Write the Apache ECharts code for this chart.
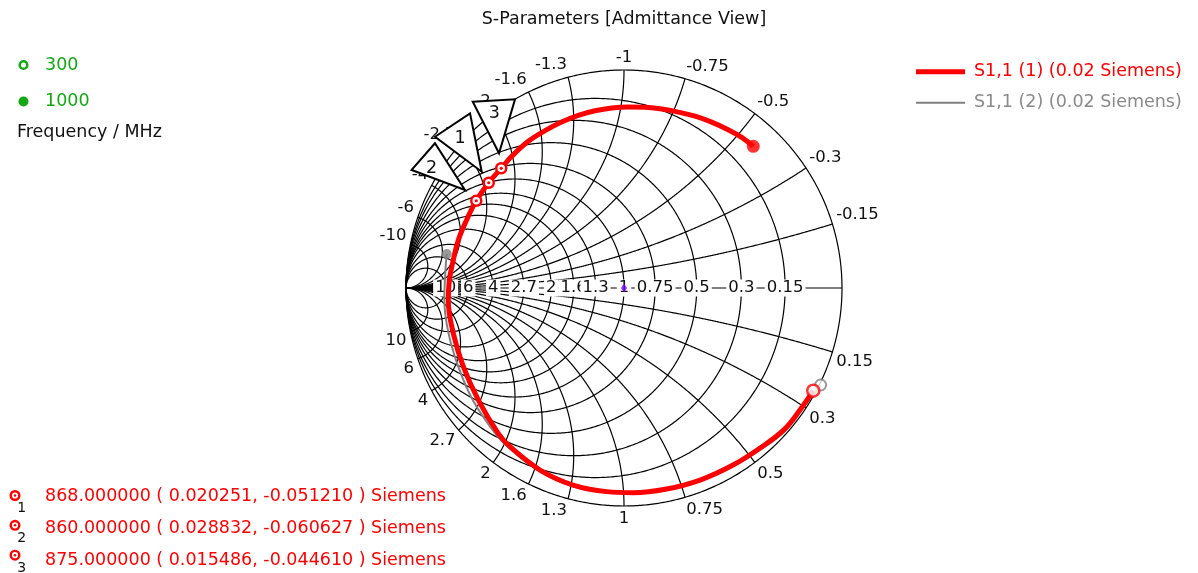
<!DOCTYPE html>
<html>
<head>
<meta charset="utf-8">
<title>S-Parameters [Admittance View]</title>
<script src="https://cdn.jsdelivr.net/npm/echarts@6.0.0/dist/echarts.min.js"></script>
<style>
html,body{margin:0;padding:0;background:#ffffff;}
#chart{width:1198px;height:573px;}
</style>
</head>
<body>
<div id="chart"></div>
<script>
// ---------------- data ----------------
const chartTitle = 'S-Parameters [Admittance View]';
const referenceSiemens = 0.02;
const conductanceTicks = [0.15, 0.3, 0.5, 0.75, 1, 1.3, 1.6, 2, 2.7, 4, 6, 10];
const susceptanceTicks = [0.15, 0.3, 0.5, 0.75, 1, 1.3, 1.6, 2, 2.7, 4, 6, 10];
const traceNames = ['S1,1 (1) (0.02 Siemens)', 'S1,1 (2) (0.02 Siemens)'];
const frequencyLabels = ['300', '1000'];
const frequencyAxisName = 'Frequency / MHz';
// S1,1 reflection coefficient [re, im], from 300 MHz to 1000 MHz
const s11Trace1 = [
  [0.868,-0.471],[0.807,-0.560],[0.733,-0.651],[0.624,-0.734],[0.500,-0.812],
  [0.349,-0.881],[0.196,-0.922],[0.041,-0.939],[-0.079,-0.934],[-0.234,-0.904],
  [-0.385,-0.835],[-0.523,-0.728],[-0.577,-0.667],[-0.668,-0.514],[-0.737,-0.361],
  [-0.783,-0.208],[-0.806,-0.055],[-0.801,0.037],[-0.783,0.128],[-0.760,0.220],
  [-0.722,0.312],[-0.678,0.400],[-0.621,0.483],[-0.563,0.549],[-0.515,0.604],
  [-0.439,0.673],[-0.362,0.722],[-0.286,0.761],[-0.210,0.792],[-0.133,0.813],
  [-0.056,0.826],[0.020,0.830],[0.096,0.829],[0.173,0.821],[0.249,0.807],
  [0.326,0.788],[0.402,0.761],[0.478,0.726],[0.540,0.691],[0.593,0.650]
];
const s11Trace2 = [
  [0.902,-0.445],[0.821,-0.550],[0.738,-0.657],[0.628,-0.740],[0.503,-0.816],
  [0.351,-0.885],[0.197,-0.926],[0.041,-0.943],[-0.080,-0.938],[-0.237,-0.908],
  [-0.389,-0.840],[-0.528,-0.733],[-0.587,-0.672],[-0.690,-0.521],[-0.759,-0.364],
  [-0.805,-0.207],[-0.824,-0.055],[-0.819,0.083],[-0.813,0.156]
];
const markerIds = [1, 2, 3];
const markerFreqMHz = [868, 860, 875];
const markerG = [0.020251, 0.028832, 0.015486];
const markerB = [-0.051210, -0.060627, -0.044610];

// ---------------- styles / layout ----------------
const FONT = '"DejaVu Sans", Verdana, sans-serif';
const tickFont = '16.5px ' + FONT;
const textFont = '17.5px ' + FONT;
const RED = '#ff0000', GRAY = '#808080', GREEN = '#12a812', INK = '#111111';
const CX = 624, CY = 288, R = 218;
const GRID_LW = 1.2;
const calloutShapes = {
  1: {tri: [[-53.7,-46],[-18.7,-69.4],[-7,-11]], label: [-28.7,-44.4]},
  2: {tri: [[-64.6,-30.8],[-41.3,-57.5],[-11.3,-10.8]], label: [-44.6,-32.5]},
  3: {tri: [[-28.5,-66.6],[13.8,-69],[-2.2,-15]], label: [-6.9,-55]}
};

// normalized admittance -> reflection coefficient (admittance view)
function admittanceToGamma(g, b) {
  const nr = 1 - g, ni = -b, dr = 1 + g, di = b;
  const den = dr * dr + di * di;
  return [(nr * dr + ni * di) / den, (ni * dr - nr * di) / den];
}

const markerData = markerIds.map((id, i) => {
  const gm = admittanceToGamma(markerG[i] / referenceSiemens, markerB[i] / referenceSiemens);
  return [gm[0], gm[1], id];
});

function renderSmithGrid(params, api) {
  const P = p => api.coord(p);
  const ls = {stroke: '#000', lineWidth: GRID_LW, fill: null};
  const children = [];
  // outer circle (g = 0)
  const outer = [];
  for (let k = 0; k <= 720; k++) {
    const t = k * Math.PI / 360;
    outer.push(P([Math.cos(t), Math.sin(t)]));
  }
  children.push({type: 'polyline', shape: {points: outer}, style: ls});
  // real axis (b = 0)
  const a1 = P([-1, 0]), a2 = P([1, 0]);
  children.push({type: 'line', shape: {x1: a1[0], y1: a1[1], x2: a2[0], y2: a2[1]}, style: ls});
  // constant conductance circles
  conductanceTicks.forEach(g => {
    const pts = [P([-1, 0])];
    for (let k = 1; k < 600; k++) {
      const b = Math.tan(-Math.PI / 2 + k * Math.PI / 600);
      pts.push(P(admittanceToGamma(g, b)));
    }
    pts.push(P([-1, 0]));
    children.push({type: 'polyline', shape: {points: pts}, style: ls});
  });
  // constant susceptance arcs
  susceptanceTicks.forEach(bAbs => [-bAbs, bAbs].forEach(b => {
    const pts = [];
    for (let k = 0; k < 500; k++) {
      const g = Math.tan(k * (Math.PI / 2) / 500);
      pts.push(P(admittanceToGamma(g, b)));
    }
    pts.push(P([-1, 0]));
    children.push({type: 'polyline', shape: {points: pts}, style: ls});
  }));
  // conductance labels on the real axis (drawn left to right)
  conductanceTicks.slice().reverse().forEach(g => {
    const p = P([(1 - g) / (1 + g), 0]);
    children.push({type: 'text', x: p[0], y: p[1], style: {
      text: String(g), fill: INK, font: tickFont, align: 'center', verticalAlign: 'middle',
      backgroundColor: '#ffffff', padding: [0, 2]
    }});
  });
  // susceptance labels around the rim
  susceptanceTicks.forEach(bAbs => [-bAbs, bAbs].forEach(b => {
    const th = -2 * Math.atan(b);
    const c = Math.cos(th), s = Math.sin(th);
    const p = P([1.018 * c, 1.018 * s]);
    children.push({type: 'text', x: p[0], y: p[1], style: {
      text: String(b), fill: INK, font: tickFont,
      align: c > 1e-6 ? 'left' : (c < -1e-6 ? 'right' : 'center'),
      verticalAlign: s > 0 ? 'bottom' : 'top'
    }});
  }));
  return {type: 'group', children};
}

function renderMarkers(params, api) {
  const id = api.value(2);
  const p = api.coord([api.value(0), api.value(1)]);
  const sh = calloutShapes[id];
  const pts = sh.tri.map(o => [p[0] + o[0], p[1] + o[1]]);
  return {type: 'group', children: [
    {type: 'polygon', shape: {points: pts}, style: {fill: '#ffffff', stroke: '#000', lineWidth: 2}},
    {type: 'text', x: p[0] + sh.label[0], y: p[1] + sh.label[1], style: {
      text: String(id), font: textFont, fill: INK, align: 'center', verticalAlign: 'middle'}},
    {type: 'circle', shape: {cx: p[0], cy: p[1], r: 5}, style: {fill: '#ffffff', stroke: RED, lineWidth: 2.5}},
    {type: 'circle', shape: {cx: p[0], cy: p[1], r: 1.6}, style: {fill: RED}}
  ]};
}

// ---------------- graphic overlays (legends, marker read-outs) ----------------
const graphics = [];
graphics.push({type: 'text', x: CX, y: 19.5, style: {text: chartTitle, font: textFont, fill: INK, align: 'center', verticalAlign: 'middle'}});
// frequency legend (left)
graphics.push({type: 'circle', shape: {cx: 23.5, cy: 65, r: 3.8}, style: {fill: '#fff', stroke: GREEN, lineWidth: 2.5}});
graphics.push({type: 'text', x: 45, y: 65, style: {text: frequencyLabels[0], font: textFont, fill: GREEN, align: 'left', verticalAlign: 'middle'}});
graphics.push({type: 'circle', shape: {cx: 23.5, cy: 101.5, r: 5}, style: {fill: GREEN}});
graphics.push({type: 'text', x: 45, y: 101.7, style: {text: frequencyLabels[1], font: textFont, fill: GREEN, align: 'left', verticalAlign: 'middle'}});
graphics.push({type: 'text', x: 17, y: 132.5, style: {text: frequencyAxisName, font: textFont, fill: INK, align: 'left', verticalAlign: 'middle'}});
// trace legend (right)
graphics.push({type: 'line', shape: {x1: 916, y1: 71.7, x2: 965, y2: 71.7}, style: {stroke: RED, lineWidth: 5}});
graphics.push({type: 'text', x: 974, y: 71.7, style: {text: traceNames[0], font: textFont, fill: RED, align: 'left', verticalAlign: 'middle'}});
graphics.push({type: 'line', shape: {x1: 916, y1: 102.7, x2: 965, y2: 102.7}, style: {stroke: GRAY, lineWidth: 2}});
graphics.push({type: 'text', x: 974, y: 102.7, style: {text: traceNames[1], font: textFont, fill: '#8a8a8a', align: 'left', verticalAlign: 'middle'}});
// marker read-outs (bottom left)
const readTextY = [496.2, 528.8, 560.8];
const readIconY = [495.5, 525.3, 555.2];
markerIds.forEach((id, i) => {
  graphics.push({type: 'circle', shape: {cx: 15, cy: readIconY[i], r: 4.3}, style: {fill: '#fff', stroke: RED, lineWidth: 2.4}});
  graphics.push({type: 'circle', shape: {cx: 15, cy: readIconY[i], r: 1.3}, style: {fill: RED}});
  graphics.push({type: 'text', x: 21.7, y: readIconY[i] + 13, style: {text: String(id), font: '14px ' + FONT, fill: INK, align: 'center', verticalAlign: 'middle'}});
  const txt = markerFreqMHz[i].toFixed(6) + ' ( ' + markerG[i].toFixed(6) + ', ' + markerB[i].toFixed(6) + ' ) Siemens';
  graphics.push({type: 'text', x: 45, y: readTextY[i], style: {text: txt, font: textFont, fill: RED, align: 'left', verticalAlign: 'middle'}});
});

// ---------------- chart ----------------
const chart = echarts.init(document.getElementById('chart'), null, {renderer: 'canvas'});
chart.setOption({
  animation: false,
  backgroundColor: '#ffffff',
  grid: {left: CX - R, top: CY - R, width: 2 * R, height: 2 * R, containLabel: false},
  xAxis: {type: 'value', min: -1, max: 1, show: false},
  yAxis: {type: 'value', min: -1, max: 1, show: false},
  graphic: graphics,
  series: [
    {type: 'custom', name: 'grid', coordinateSystem: 'cartesian2d', silent: true, z: 1,
     data: [[0, 0]], renderItem: renderSmithGrid},
    {type: 'line', name: traceNames[1], data: s11Trace2, smooth: 0.4, showSymbol: false, z: 2,
     lineStyle: {color: GRAY, width: 2}, itemStyle: {color: GRAY}, silent: true},
    {type: 'scatter', name: traceNames[1] + ' start', data: [s11Trace2[0]], symbol: 'circle', symbolSize: 11, z: 2,
     itemStyle: {color: '#ffffff', borderColor: GRAY, borderWidth: 2}, silent: true},
    {type: 'scatter', name: traceNames[1] + ' end', data: [s11Trace2[s11Trace2.length - 1]], symbol: 'circle', symbolSize: 10, z: 2,
     itemStyle: {color: GRAY}, silent: true},
    {type: 'line', name: traceNames[0], data: s11Trace1, smooth: 0.4, showSymbol: false, z: 3,
     lineStyle: {color: RED, width: 5}, itemStyle: {color: RED}, silent: true},
    {type: 'scatter', name: traceNames[0] + ' start', data: [s11Trace1[0]], symbol: 'circle', symbolSize: 12, z: 4,
     itemStyle: {color: '#ffffff', borderColor: RED, borderWidth: 2.5}, silent: true},
    {type: 'scatter', name: traceNames[0] + ' end', data: [s11Trace1[s11Trace1.length - 1]], symbol: 'circle', symbolSize: 13, z: 4,
     itemStyle: {color: RED}, silent: true},
    {type: 'custom', name: 'markers', coordinateSystem: 'cartesian2d', silent: true, z: 5,
     data: markerData, renderItem: renderMarkers},
    {type: 'scatter', name: 'center', data: [admittanceToGamma(1, 0)], symbol: 'diamond', symbolSize: [6, 9], z: 6,
     itemStyle: {color: '#7a00ff'}, silent: true}
  ]
});
</script>
</body>
</html>
